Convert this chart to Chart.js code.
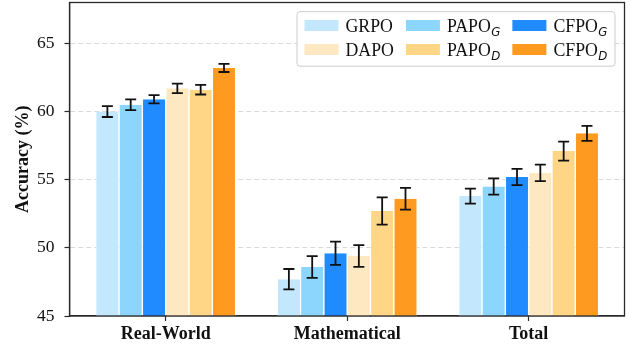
<!DOCTYPE html>
<html>
<head>
<meta charset="utf-8">
<script src="https://cdn.jsdelivr.net/npm/chart.js@4"></script>
<style>
  html, body { margin: 0; padding: 0; background: #fff; }
  canvas { display: block; }
</style>
</head>
<body>
<canvas id="c" width="631" height="350"></canvas>
<script>
// Benchmark groups on the x axis
const categories = ['Real-World', 'Mathematical', 'Total'];

// Method names (base text + subscript)
const methodNames = ['GRPO', 'PAPO', 'CFPO', 'DAPO', 'PAPO', 'CFPO'];
const methodSubs  = ['', 'G', 'G', '', 'D', 'D'];
const methodColors = ['#c3e7fc', '#8cd5fc', '#1f8bff', '#fee8c1', '#fed686', '#ff9a20'];

// Mean accuracy (%) per method, one value per category
const grpo  = [60.0, 47.7, 53.8];
const papoG = [60.5, 48.6, 54.5];
const cfpoG = [60.9, 49.6, 55.2];
const dapo  = [61.7, 49.4, 55.5];
const papoD = [61.6, 52.7, 57.1];
const cfpoD = [63.2, 53.6, 58.4];

// Error bar half-widths
const grpoErr  = [0.40, 0.75, 0.55];
const papoGErr = [0.40, 0.80, 0.60];
const cfpoGErr = [0.30, 0.85, 0.60];
const dapoErr  = [0.35, 0.80, 0.60];
const papoDErr = [0.35, 1.00, 0.70];
const cfpoDErr = [0.30, 0.80, 0.55];

// Y axis ticks
const yTicks = [45, 50, 55, 60, 65];
const yMin = 45, yMax = 68;

const seriesValues = [grpo, papoG, cfpoG, dapo, papoD, cfpoD];
const seriesErrors = [grpoErr, papoGErr, cfpoGErr, dapoErr, papoDErr, cfpoDErr];

const SERIF = '"Liberation Serif", "Times New Roman", serif';

const datasets = seriesValues.map((vals, i) => ({
  label: methodNames[i] + (methodSubs[i] ? '_' + methodSubs[i] : ''),
  baseName: methodNames[i],
  subName: methodSubs[i],
  data: vals.map((v, j) => ({ x: j, y: v })),
  errors: seriesErrors[i],
  backgroundColor: methodColors[i],
  borderColor: '#ffffff',
  borderWidth: { left: 0.7, right: 0.7, top: 0, bottom: 0 },
  borderSkipped: false,
  categoryPercentage: 0.771,
  barPercentage: 1.0
}));

// Error bars with caps
const errorBars = {
  id: 'errorBars',
  afterDatasetsDraw(chart) {
    const ctx = chart.ctx;
    const ys = chart.scales.y;
    ctx.save();
    ctx.strokeStyle = '#111';
    ctx.lineWidth = 1.8;
    chart.data.datasets.forEach((ds, i) => {
      const meta = chart.getDatasetMeta(i);
      meta.data.forEach((bar, j) => {
        const v = ds.data[j].y, e = ds.errors[j];
        const yt = ys.getPixelForValue(v + e);
        const yb = ys.getPixelForValue(v - e);
        const cap = 5.5;
        ctx.beginPath();
        ctx.moveTo(bar.x, yt); ctx.lineTo(bar.x, yb);
        ctx.moveTo(bar.x - cap, yt); ctx.lineTo(bar.x + cap, yt);
        ctx.moveTo(bar.x - cap, yb); ctx.lineTo(bar.x + cap, yb);
        ctx.stroke();
      });
    });
    ctx.restore();
  }
};

// Full box frame around the plot area
const frame = {
  id: 'frame',
  afterDatasetsDraw(chart) {
    const { ctx, chartArea: a } = chart;
    ctx.save();
    ctx.strokeStyle = '#2a2a2a';
    ctx.lineWidth = 1.3;
    ctx.strokeRect(a.left, a.top, a.right - a.left, a.bottom - a.top);
    ctx.restore();
  }
};

// Three-column legend with subscripted labels
const subLegend = {
  id: 'subLegend',
  afterDraw(chart) {
    const { ctx, chartArea: a } = chart;
    const dsets = chart.data.datasets;
    const mainFont = '17.8px ' + SERIF;
    const subFont = 'italic 11.8px "DejaVu Sans", sans-serif';
    const swW = 34, swH = 11, gap = 7, colSpace = 12, padX = 7.5;
    ctx.save();
    const labelWidth = (ds) => {
      ctx.font = mainFont;
      let w = ctx.measureText(ds.baseName).width;
      if (ds.subName) { ctx.font = subFont; w += ctx.measureText(ds.subName).width + 0.5; }
      return w;
    };
    const cols = 3, rows = Math.ceil(dsets.length / cols);
    const colW = [];
    for (let c = 0; c < cols; c++) {
      let m = 0;
      for (let r = 0; r < rows; r++) {
        const ds = dsets[r * cols + c];
        if (ds) m = Math.max(m, labelWidth(ds));
      }
      colW.push(swW + gap + m);
    }
    const boxW = padX * 2 + colW.reduce((s, w) => s + w, 0) + colSpace * (cols - 1);
    const boxH = 54.5;
    const bx = a.right - 9.5 - boxW;
    const by = a.top + 9.2;
    // box
    ctx.beginPath();
    ctx.roundRect(bx, by, boxW, boxH, 3);
    ctx.fillStyle = 'rgba(255,255,255,0.95)';
    ctx.fill();
    ctx.strokeStyle = '#cccccc';
    ctx.lineWidth = 1;
    ctx.stroke();
    // entries
    let cx = bx + padX;
    for (let c = 0; c < cols; c++) {
      for (let r = 0; r < rows; r++) {
        const ds = dsets[r * cols + c];
        if (!ds) continue;
        const swTop = by + 8.3 + r * 24;
        ctx.fillStyle = ds.backgroundColor;
        ctx.fillRect(cx, swTop, swW, swH);
        const base = by + 20.6 + r * 23.7;
        ctx.fillStyle = '#111';
        ctx.font = mainFont;
        ctx.textBaseline = 'alphabetic';
        ctx.textAlign = 'left';
        ctx.fillText(ds.baseName, cx + swW + gap, base);
        if (ds.subName) {
          const w = ctx.measureText(ds.baseName).width;
          ctx.font = subFont;
          ctx.fillText(ds.subName, cx + swW + gap + w + 0.5, base + 3.5);
        }
      }
      cx += colW[c] + colSpace;
    }
    ctx.restore();
  }
};

new Chart(document.getElementById('c'), {
  type: 'bar',
  data: { datasets },
  options: {
    responsive: false,
    animation: false,
    devicePixelRatio: 1,
    layout: { padding: { left: 0, top: 2.5, right: 6.5, bottom: 0 } },
    plugins: { legend: { display: false }, tooltip: { enabled: false } },
    scales: {
      x: {
        type: 'linear',
        min: -0.530,
        max: 2.528,
        offset: false,
        afterFit: (s) => { s.height = 34; s.paddingLeft = 0; s.paddingRight = 0; },
        ticks: {
          stepSize: 1,
          includeBounds: false,
          autoSkip: false,
          maxRotation: 0,
          padding: 3,
          color: '#111',
          font: { family: SERIF, size: 18, weight: 'bold' },
          callback: (v) => (Number.isInteger(v) && categories[v]) ? categories[v] : ''
        },
        grid: { offset: false, drawOnChartArea: false, drawTicks: true, tickLength: 5, tickColor: '#2a2a2a', tickWidth: 1.2 },
        border: { display: true, color: '#2a2a2a', width: 1.3 }
      },
      y: {
        min: yMin,
        max: yMax,
        afterBuildTicks: (s) => { s.ticks = yTicks.map(v => ({ value: v })); },
        afterFit: (s) => { s.width = 69.5; s.paddingTop = 0; s.paddingBottom = 0; },
        ticks: {
          stepSize: 5,
          includeBounds: false,
          padding: 10,
          color: '#111',
          font: { family: SERIF, size: 17.5 }
        },
        title: {
          display: true,
          text: 'Accuracy (%)',
          color: '#111',
          font: { family: SERIF, size: 18, weight: 'bold' },
          padding: { top: 13, bottom: 0 }
        },
        grid: {
          color: (c) => (c.tick && c.tick.value === yMin) ? 'rgba(0,0,0,0)' : '#dadada',
          lineWidth: 1,
          drawTicks: true,
          tickLength: 5,
          tickColor: '#2a2a2a',
          tickWidth: 1.2
        },
        border: { display: true, color: '#2a2a2a', width: 1.3, dash: [5, 3] }
      }
    }
  },
  plugins: [errorBars, frame, subLegend]
});
</script>
</body>
</html>
